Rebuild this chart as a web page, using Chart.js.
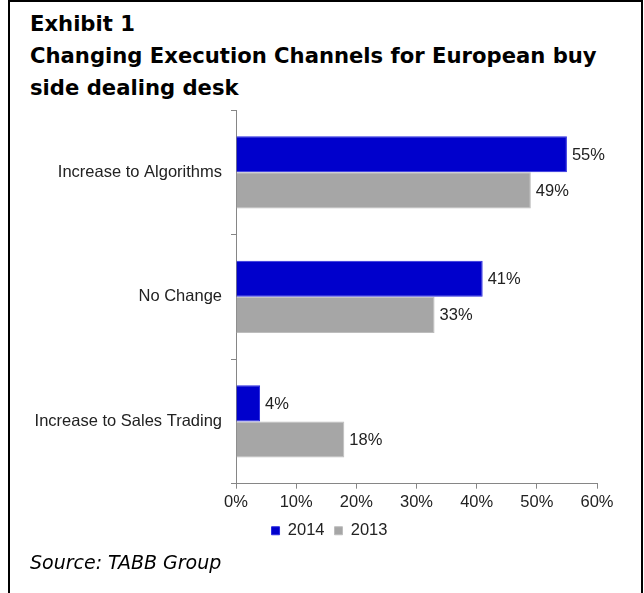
<!DOCTYPE html>
<html>
<head>
<meta charset="utf-8">
<script src="https://cdn.jsdelivr.net/npm/chart.js@4.4.1/dist/chart.umd.min.js"></script>
<style>
  html, body { margin: 0; padding: 0; background: #fff; }
  body { width: 644px; height: 593px; position: relative; overflow: hidden; }
  .frame {
    position: absolute; left: 8px; top: 0; width: 635px; height: 620px;
    box-sizing: border-box; border: 2px solid #000; border-bottom: none;
  }
  .title {
    position: absolute; left: 30px; top: 8px; margin: 0;
    font: bold 21.15px "DejaVu Sans", Verdana, sans-serif; line-height: 32px; color: #000;
  }
  .source {
    position: absolute; left: 30px; top: 551px;
    font: oblique 19px "DejaVu Sans", Verdana, sans-serif; color: #000;
  }
  #chartWrap { position: absolute; left: 10px; top: 100px; width: 632px; height: 453px; }
</style>
</head>
<body>
<div class="frame"></div>
<div class="title">Exhibit 1<br>Changing Execution Channels for European buy<br>side dealing desk</div>
<div id="chartWrap"><canvas id="chart"></canvas></div>
<div class="source">Source: TABB Group</div>
<script>
const categories = ["Increase to Algorithms", "No Change", "Increase to Sales Trading"];
const values2014 = [55, 41, 4];
const values2013 = [49, 33, 18];
const xTicks = [0, 10, 20, 30, 40, 50, 60];

const blue = "#0000CC";
const gray = "#A6A6A6";
const axisGray = "#868686";
const textColor = "#222";
const labelFont = { family: "Liberation Sans, Arial, sans-serif", size: 16.5 };

const valueLabelPlugin = {
  id: "valueLabels",
  afterDatasetsDraw(chart) {
    const ctx = chart.ctx;
    ctx.save();
    ctx.font = "16.5px Liberation Sans, Arial, sans-serif";
    ctx.fillStyle = textColor;
    ctx.textAlign = "left";
    ctx.textBaseline = "middle";
    chart.data.datasets.forEach((ds, i) => {
      chart.getDatasetMeta(i).data.forEach((bar, j) => {
        ctx.fillText(ds.data[j] + "%", bar.x + 5, bar.y + 1);
      });
    });
    ctx.restore();
  }
};

// legend sits a little right of the canvas centre and close under the axis in the original
const legendShift = {
  id: "legendShift",
  afterLayout(chart) {
    if (!chart.legend) return;
    chart.legend.left += 26;
    chart.legend.right += 26;
    chart.legend.top -= 4;
    chart.legend.bottom -= 4;
  }
};

new Chart(document.getElementById("chart"), {
  type: "bar",
  plugins: [valueLabelPlugin, legendShift],
  data: {
    labels: categories,
    datasets: [
      {
        label: "2014",
        data: values2014,
        backgroundColor: blue,
        borderColor: "#2A2AE0",
        borderWidth: 1,
        barPercentage: 1,
        categoryPercentage: 0.58
      },
      {
        label: "2013",
        data: values2013,
        backgroundColor: gray,
        borderColor: "#BDBDBD",
        borderWidth: 1,
        barPercentage: 1,
        categoryPercentage: 0.58
      }
    ]
  },
  options: {
    indexAxis: "y",
    responsive: true,
    maintainAspectRatio: false,
    animation: false,
    layout: { padding: { top: 10, right: 45, bottom: 0, left: 0 } },
    plugins: {
      tooltip: { enabled: false },
      legend: {
        position: "bottom",
        labels: {
          color: textColor,
          font: labelFont,
          boxWidth: 8,
          boxHeight: 8,
          padding: 10
        }
      }
    },
    scales: {
      x: {
        min: 0,
        max: 60,
        afterBuildTicks(axis) {
          axis.ticks = xTicks.map((v) => ({ value: v }));
        },
        grid: { drawOnChartArea: false, drawTicks: true, tickLength: 5, color: axisGray },
        border: { color: axisGray },
        ticks: {
          color: textColor,
          font: labelFont,
          padding: 4,
          callback: (v) => v + "%"
        }
      },
      y: {
        afterFit(axis) {
          axis.width = 226;
          axis.paddingTop = 0;
          axis.paddingBottom = 0;
        },
        grid: { drawOnChartArea: false, drawTicks: true, tickLength: 5, color: axisGray },
        border: { color: axisGray },
        ticks: { color: textColor, font: labelFont, padding: 9 }
      }
    }
  }
});
</script>
</body>
</html>
